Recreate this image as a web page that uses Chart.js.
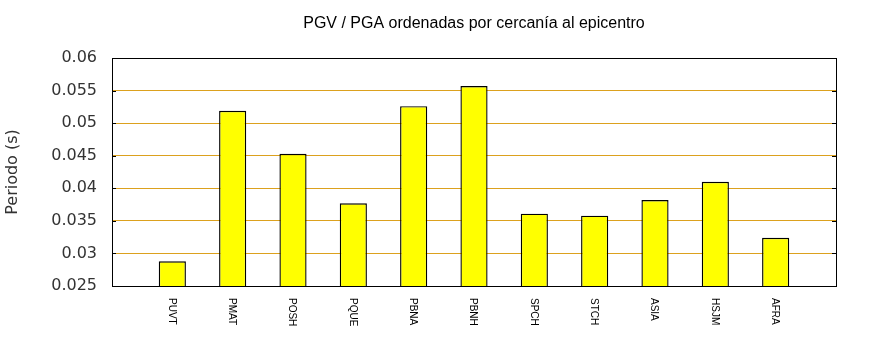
<!DOCTYPE html>
<html>
<head>
<meta charset="utf-8">
<script src="https://cdn.jsdelivr.net/npm/chart.js@4/dist/chart.umd.min.js"></script>
<style>
  body { margin: 0; background: #fff; }
</style>
</head>
<body>
<canvas id="myChart" width="870" height="350"></canvas>
<script>
// stations, ordered by distance to the epicentre
var stations = ['PUVT', 'PMAT', 'POSH', 'PQUE', 'PBNA', 'PBNH', 'SPCH', 'STCH', 'ASIA', 'HSJM', 'AFRA'];
var periods = [0.0288, 0.0519, 0.0453, 0.0377, 0.0526, 0.0557, 0.0361, 0.0358, 0.0382, 0.0410, 0.0324];
var yTicks = [0.025, 0.03, 0.035, 0.04, 0.045, 0.05, 0.055, 0.06];
var title = 'PGV / PGA ordenadas por cercanía al epicentro';

// blank slot on each side, like the gnuplot x range
var labels = [''].concat(stations).concat(['']);
var values = [null].concat(periods).concat([null]);

var gridColor = '#dca11e';

var frame = {
    id: 'frame',
    afterDraw: function (chart) {
        var ctx = chart.ctx;
        var a = chart.chartArea;
        var y = chart.scales.y;
        var x = chart.scales.x;
        ctx.save();
        // title centred over the plot box
        ctx.fillStyle = '#000';
        ctx.font = '16px "Liberation Sans", Arial, sans-serif';
        ctx.textAlign = 'center';
        ctx.textBaseline = 'middle';
        ctx.fillText(title, (a.left + a.right) / 2, 24);
        // inward tick marks on both sides
        ctx.strokeStyle = '#000';
        ctx.lineWidth = 1;
        ctx.beginPath();
        yTicks.forEach(function (v) {
            var py = Math.round(y.getPixelForValue(v)) + 0.5;
            ctx.moveTo(a.left, py); ctx.lineTo(a.left + 4, py);
            ctx.moveTo(a.right, py); ctx.lineTo(a.right - 4, py);
        });
        ctx.stroke();
        ctx.strokeRect(Math.round(a.left) + 0.5, Math.round(a.top) + 0.5,
            Math.round(a.right - a.left), Math.round(a.bottom - a.top));
        // station names, turned to read downwards
        ctx.font = '10px "Liberation Sans", Arial, sans-serif';
        ctx.textAlign = 'left';
        ctx.textBaseline = 'middle';
        stations.forEach(function (s, i) {
            var px = x.getPixelForValue(i + 1);
            ctx.save();
            ctx.translate(px - 1, a.bottom + 12);
            ctx.rotate(Math.PI / 2);
            ctx.fillText(s, 0, 0);
            ctx.restore();
        });
        ctx.restore();
    }
};

var ctx = document.getElementById('myChart').getContext('2d');
var myChart = new Chart(ctx, {
    type: 'bar',
    data: {
        labels: labels,
        datasets: [{
            data: values,
            backgroundColor: '#ffff00',
            borderColor: '#000',
            borderWidth: 1.4,
            borderSkipped: false,
            categoryPercentage: 1,
            barPercentage: 0.45
        }]
    },
    options: {
        responsive: false,
        animation: false,
        layout: { padding: { left: 0, right: 34, top: 58, bottom: 0 } },
        plugins: {
            legend: { display: false },
            tooltip: { enabled: false },
            title: { display: false }
        },
        scales: {
            x: {
                offset: false,
                grid: { display: false },
                border: { display: false },
                ticks: { display: false },
                afterFit: function (s) { s.height = 64; }
            },
            y: {
                min: 0.025,
                max: 0.06,
                afterBuildTicks: function (s) {
                    s.ticks = yTicks.map(function (v) { return { value: v }; });
                },
                border: { display: false },
                grid: {
                    drawTicks: false,
                    lineWidth: 1,
                    color: function (c) {
                        var v = c.tick ? c.tick.value : 0;
                        if (Math.abs(v - 0.025) < 1e-6 || Math.abs(v - 0.06) < 1e-6) return 'rgba(0,0,0,0)';
                        return gridColor;
                    }
                },
                ticks: {
                    padding: 15,
                    color: '#333',
                    font: { family: '"DejaVu Sans", sans-serif', size: 16 },
                    callback: function (v) { return String(Number(Number(v).toFixed(3))); }
                },
                title: {
                    display: true,
                    text: 'Periodo (s)',
                    color: '#333',
                    font: { family: '"DejaVu Sans", sans-serif', size: 16 },
                    padding: { top: 3, bottom: 0 }
                },
                afterFit: function (s) { s.width = 112; }
            }
        }
    },
    plugins: [frame]
});
</script>
</body>
</html>
